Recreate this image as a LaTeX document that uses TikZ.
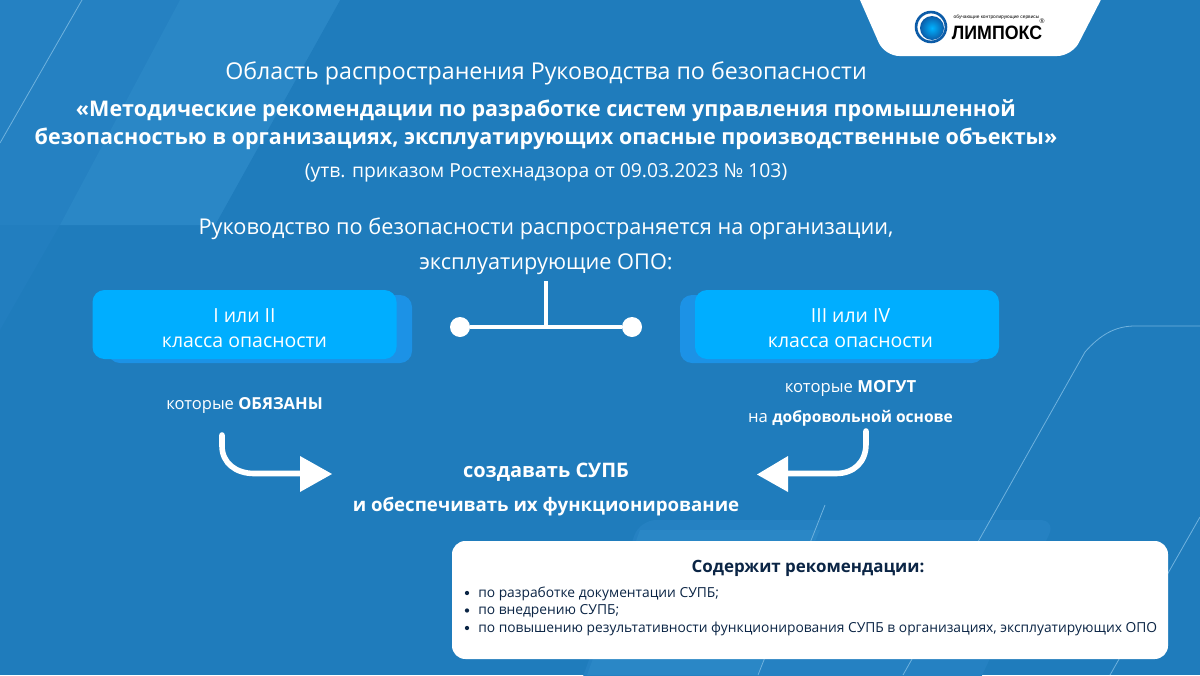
\documentclass[tikz,border=0pt]{standalone}
\usepackage{fontspec}
\setmainfont{Open Sans}
\newfontfamily\logofont{Liberation Sans}
\usetikzlibrary{calc}
\definecolor{bgblue}{HTML}{1F7CBC}
\definecolor{bglight}{HTML}{2A87C6}
\definecolor{bglight2}{HTML}{2581C2}
\definecolor{boxfront}{HTML}{00AEFF}
\definecolor{boxback}{HTML}{1C92E6}
\definecolor{navy}{HTML}{0B2545}
\definecolor{hair}{HTML}{6FB2DE}
\definecolor{logoblue}{HTML}{0C5CA8}
\newcommand{\fs}[1]{\fontsize{#1}{#1}\selectfont}
\tikzset{
 x=0.75pt,y=-0.75pt,
 txt/.style={text=white,inner sep=0pt,align=center,font=\fs{#1}},
 front/.style={fill=boxfront,rounded corners=9pt,draw=none,minimum width=228pt,minimum height=51.75pt},
 back/.style={fill=boxback,rounded corners=9pt,draw=none},
 wire/.style={draw=white,line width=2.6pt},
 dot/.style={circle,fill=white,inner sep=0pt,minimum size=15pt},
 arrowbend/.style={draw=white,line width=4.2pt,line cap=round},
 hairline/.style={draw=hair,line width=0.6pt},
 wtext/.style={inner sep=0pt,anchor=west,text=navy,font=\fs{10.35}},
 boxtext/.style={text=white,inner sep=0pt,align=center,font=\fontsize{14.6}{18.75}\selectfont},
}
\begin{document}
\begin{tikzpicture}
\useasboundingbox (0,0) rectangle (1200,675);
\fill[bgblue] (0,0) rectangle (1200,675);
% background shapes
\fill[bglight2] (0,0) -- (340,0) -- (215,225) -- (0,225) -- cycle;
\fill[bglight] (180,0) -- (340,0) -- (215,225) -- (60,225) -- cycle;
\fill[bglight2!50!bgblue] (0,225) -- (60,225) -- (0,330) -- cycle;
\fill[bglight2,rounded corners=12pt] (640,520) -- (1056,520) -- (975,690) -- (578,690) -- cycle;
\fill[bglight] (587,675) -- (640,530) -- (820,530) -- (757,675) -- cycle;
\draw[hairline] (0,143) -- (82,0);
\draw[hairline] (1110,675) -- (1200,517);
\draw[hairline] (903,675) -- (1085,352) .. controls (1100,335) and (1115,326) .. (1135,326) -- (1200,326);
\draw[hairline] (758,675) -- (825,505);
% logo plate
\fill[white,rounded corners=11pt] (854.7,-12) -- (1107,-12) -- (1072,56) -- (884.6,56) -- (854.7,-12) -- cycle;
\draw[draw=logoblue,line width=2pt] (931,27) circle (11.2pt);
\shade[inner color=cyan!70!blue,outer color=logoblue] (932,28) circle (9pt);
\node[inner sep=0pt,text=black,font=\logofont\fs{3.6}] (lg1) at (996.5,17) {обучающие контролирующие сервисы};
\node[inner sep=0pt,text=black,xscale=.92,font=\logofont\bfseries\fs{14.5}] (lg2) at (997,33) {ЛИМПОКС};
\node[inner sep=0pt,text=black,font=\logofont\fs{5}] (lg3) at (1042,21) {®};
% headings
\node[txt=17.4] (t1) at (546,73) {Область распространения Руководства по безопасности};
\node[txt=16.2,font=\fontsize{16.15}{21}\selectfont\bfseries] (t2) at (546,125) {«Методические рекомендации по разработке систем управления промышленной\\безопасностью в организациях, эксплуатирующих опасные производственные объекты»};
\node[txt=14.5] (t3) at (546,173) {(утв. приказом Ростехнадзора от 09.03.2023 № 103)};
\node[txt=16.3] (t4) at (546,229) {Руководство по безопасности распространяется на организации,};
\node[txt=16.3] (t5) at (546,264) {эксплуатирующие ОПО:};
% boxes
\fill[back] (108,295) rectangle (412,363);
\node[front] (bl) at (244.5,324.5) {};
\node[boxtext] (blt) at ($(bl)+(0,4)$) {I или II\\класса опасности};
\fill[back] (680,295) rectangle (984,363);
\node[front] (br) at (847,324.5) {};
\node[boxtext] (brt) at ($(br)+(3.5,4)$) {III или IV\\класса опасности};
% fork
\node[dot] (dl) at (460,327) {};
\node[dot] (dr) at (632,327) {};
\coordinate (top) at (546,281);
\coordinate (mid) at (546,327);
\draw[wire] (dl) -- (dr);
\draw[wire] (top) -- (mid);
% labels
\node[txt=12.4] (l1) at (244.5,405) {которые \textbf{ОБЯЗАНЫ}};
\node[txt=12.5] (r1) at (850.5,388) {которые \textbf{МОГУТ}};
\node[txt=12.5] (r2) at (850.5,418) {на {\fs{11.7}\textbf{добровольной основе}}};
\node[txt=15,font=\fs{15}\bfseries] (c1) at (546,472) {создавать СУПБ};
\node[txt=14,font=\fs{14}\bfseries] (c2) at (546,507) {и обеспечивать их функционирование};
% arrows
\coordinate (as) at (222,435);
\coordinate (ae) at (302,473.5);
\draw[arrowbend] (as) -- (222,446) .. controls (222,463) and (236,473.5) .. (254,473.5) -- (ae);
\fill[white] (300,456) -- (332,474) -- (300,492) -- cycle;
\coordinate (bs) at (866,431);
\coordinate (be) at (786,473.5);
\draw[arrowbend] (bs) -- (866,444) .. controls (866,462) and (854,473.5) .. (836,473.5) -- (be);
\fill[white] (788,456) -- (757,474.5) -- (788,492) -- cycle;
% white box
\fill[white,rounded corners=10pt] (452,541) rectangle (1168,659);
\node[inner sep=0pt,text=navy,font=\fs{12.7}\bfseries] (w0) at (808,568) {Содержит рекомендации:};
\node[wtext] (w1) at (478,593.5) {по разработке документации СУПБ;};
\node[wtext] (w2) at (478,611) {по внедрению СУПБ;};
\node[wtext] (w3) at (478,628.5) {по повышению результативности функционирования СУПБ в организациях, эксплуатирующих ОПО};
\foreach \yy in {593,610.5,628} \fill[navy] (467,\yy) circle (1.6pt);
\end{tikzpicture}
\end{document}
